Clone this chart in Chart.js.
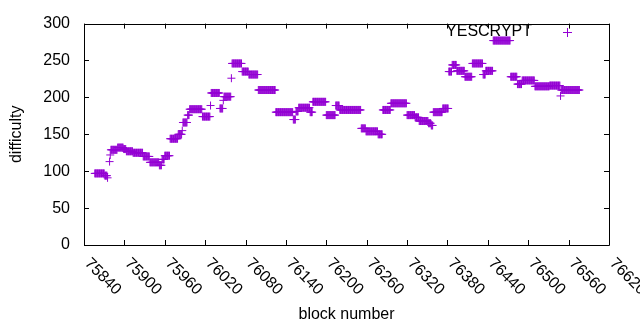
<!DOCTYPE html>
<html>
<head>
<meta charset="utf-8">
<script src="https://cdn.jsdelivr.net/npm/chart.js@4.4.0/dist/chart.umd.min.js"></script>
<style>
html, body { margin: 0; padding: 0; background: #fff; }
#wrap { width: 640px; height: 330px; }
</style>
</head>
<body>
<div id="wrap"><canvas id="chart" width="640" height="330"></canvas></div>
<script>
// difficulty stays flat over runs of blocks, so the data is kept as runs
// (first block, last block, difficulty)
const runFirst = [75856, 75871, 75875, 75878, 75879, 75880, 75890, 75899, 75903, 75913,
    75928, 75938, 75952, 75956, 75960, 75968, 75980, 75986, 75987, 75994,
    75997, 76016, 76028, 76029, 76042, 76047, 76048, 76059, 76060, 76075,
    76085, 76099, 76125, 76151, 76155, 76159, 76176, 76180, 76200, 76214,
    76220, 76252, 76259, 76277, 76284, 76296, 76320, 76332, 76338, 76352,
    76356, 76359, 76373, 76382, 76387, 76394, 76406, 76417, 76433, 76437,
    76448, 76474, 76484, 76491, 76510, 76532, 76548, 76549];
const runLast = [75870, 75874, 75875, 75878, 75879, 75889, 75898, 75902, 75912, 75927,
    75937, 75951, 75955, 75959, 75967, 75979, 75985, 75986, 75993, 75996,
    76015, 76027, 76028, 76041, 76046, 76047, 76058, 76059, 76074, 76084,
    76098, 76124, 76150, 76154, 76158, 76175, 76179, 76199, 76213, 76219,
    76251, 76258, 76276, 76283, 76295, 76319, 76331, 76337, 76351, 76355,
    76358, 76372, 76381, 76386, 76393, 76405, 76416, 76432, 76436, 76447,
    76473, 76483, 76490, 76509, 76531, 76547, 76548, 76576];
const runDifficulty = [97, 94, 91, 113, 122, 129, 132, 130, 127, 125,
    120, 112, 108, 116, 121, 144, 150, 155, 166, 176,
    184, 174, 189, 206, 185, 196, 201, 226, 246, 235,
    231, 210, 180, 170, 181, 186, 180, 194, 176, 189,
    183, 158, 154, 150, 183, 192, 176, 173, 168, 165,
    162, 180, 185, 235, 244, 236, 228, 246, 231, 236,
    277, 228, 218, 223, 215, 216, 202, 210];

const xTicks = [75840, 75900, 75960, 76020, 76080, 76140, 76200, 76260, 76320, 76380, 76440, 76500, 76560, 76620];
const yTicks = [0, 50, 100, 150, 200, 250, 300];
const seriesName = 'YESCRYPT';
const xTitle = 'block number';
const yTitle = 'difficulty';

const violet = '#9400d3';
const font = '16px "Liberation Sans", Arial, sans-serif';

let points = [];
runFirst.forEach((first, i) => {
    for (let b = first; b <= runLast[i]; b++) {
        points.push({ x: b, y: runDifficulty[i] });
    }
});

// gnuplot look: frame with inward ticks, slanted x labels, key on the right
const gnuplotFrame = {
    id: 'gnuplotFrame',
    beforeDatasetsDraw(chart) {
        const ctx = chart.ctx;
        const area = chart.chartArea;
        const xs = chart.scales.x;
        const ys = chart.scales.y;
        const tick = 5;
        ctx.save();
        ctx.strokeStyle = '#000';
        ctx.lineWidth = 1;
        ctx.beginPath();
        ctx.rect(Math.round(area.left) + 0.5, Math.round(area.top) + 0.5,
            Math.round(area.right - area.left), Math.round(area.bottom - area.top));
        xTicks.forEach(v => {
            let px = Math.round(xs.getPixelForValue(v)) + 0.5;
            ctx.moveTo(px, area.bottom);
            ctx.lineTo(px, area.bottom - tick);
            ctx.moveTo(px, area.top);
            ctx.lineTo(px, area.top + tick);
        });
        yTicks.forEach(v => {
            let py = Math.round(ys.getPixelForValue(v)) + 0.5;
            ctx.moveTo(area.left, py);
            ctx.lineTo(area.left + tick, py);
            ctx.moveTo(area.right, py);
            ctx.lineTo(area.right - tick, py);
        });
        ctx.stroke();
        ctx.restore();
    },
    afterDraw(chart) {
        const ctx = chart.ctx;
        const area = chart.chartArea;
        const xs = chart.scales.x;
        ctx.save();
        ctx.fillStyle = '#000';
        ctx.font = font;

        // rotated x tick labels
        ctx.textAlign = 'left';
        ctx.textBaseline = 'middle';
        xTicks.forEach(v => {
            let px = xs.getPixelForValue(v);
            ctx.save();
            ctx.translate(px + 3, area.bottom + 16);
            ctx.rotate(Math.PI / 4);
            ctx.fillText(String(v), 0, 0);
            ctx.restore();
        });

        // axis titles
        ctx.textAlign = 'center';
        ctx.fillText(xTitle, (area.left + area.right) / 2, 315);
        ctx.save();
        ctx.translate(17, (area.top + area.bottom) / 2);
        ctx.rotate(-Math.PI / 2);
        ctx.fillText(yTitle, 0, 0);
        ctx.restore();

        // key
        ctx.textAlign = 'right';
        ctx.fillText(seriesName, 532, 32);
        ctx.strokeStyle = violet;
        ctx.lineWidth = 1;
        ctx.beginPath();
        ctx.moveTo(563, 32.5);
        ctx.lineTo(572, 32.5);
        ctx.moveTo(567.5, 28);
        ctx.lineTo(567.5, 37);
        ctx.stroke();
        ctx.restore();
    }
};

const ctx = document.getElementById('chart').getContext('2d');
const chart = new Chart(ctx, {
    type: 'scatter',
    data: {
        datasets: [{
            label: seriesName,
            data: points,
            pointStyle: 'cross',
            pointRadius: 4,
            pointBorderWidth: 1,
            borderColor: violet,
            backgroundColor: violet,
            showLine: false
        }]
    },
    options: {
        responsive: false,
        animation: false,
        devicePixelRatio: 1,
        // chart.js adds ~4.6px of point overflow on top of this
        layout: { padding: { top: 15, right: 31, left: 0, bottom: 0 } },
        plugins: {
            legend: { display: false },
            tooltip: { enabled: false }
        },
        scales: {
            x: {
                type: 'linear',
                min: 75840,
                max: 76620,
                grid: { display: false, drawTicks: false },
                border: { display: false },
                ticks: { display: false },
                afterFit: (scale) => { scale.height = 85; }
            },
            y: {
                min: 0,
                max: 300,
                grid: { display: false, drawTicks: false },
                border: { display: false },
                ticks: {
                    color: '#000',
                    padding: 14,
                    font: { family: '"Liberation Sans", Arial, sans-serif', size: 16 }
                },
                afterBuildTicks: (scale) => { scale.ticks = yTicks.map(v => ({ value: v })); },
                afterFit: (scale) => { scale.width = 84; }
            }
        }
    },
    plugins: [gnuplotFrame]
});
</script>
</body>
</html>
